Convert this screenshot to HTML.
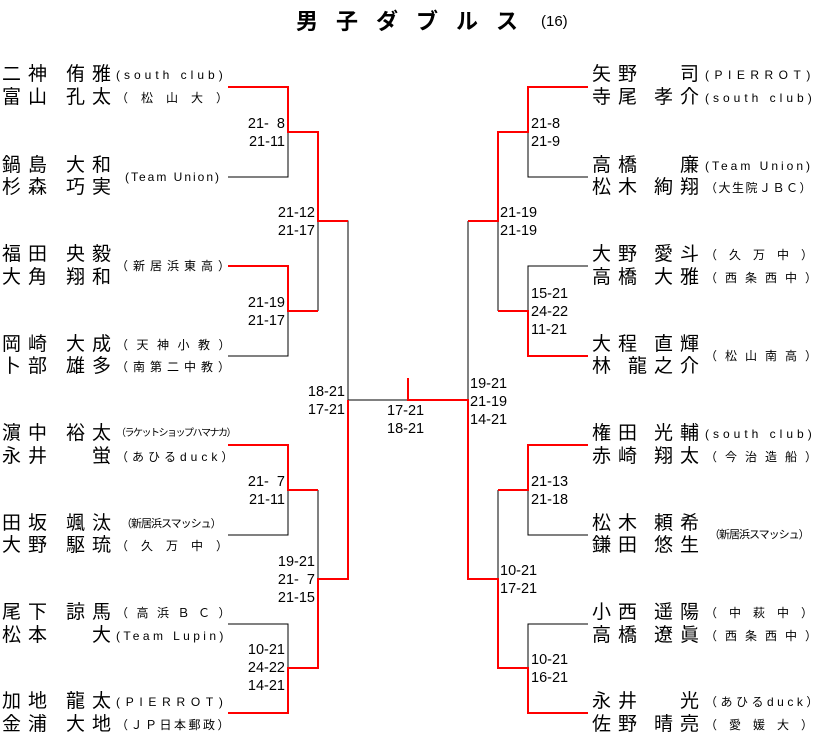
<!DOCTYPE html>
<html><head><meta charset="utf-8"><style>
body{margin:0;background:#fff;}
#w{position:relative;width:817px;height:736px;overflow:hidden;font-family:"Liberation Sans","Noto Sans CJK JP",sans-serif;color:#000;}
.a{position:absolute;white-space:nowrap;}
.s{font-size:19px;line-height:22px;letter-spacing:7px;}
.c{font-size:12px;line-height:22px;}
.sc{font-size:14.5px;line-height:18px;}
.r{text-align:right;}
svg{position:absolute;left:0;top:0;}
</style></head><body><div id="w">
<svg width="817" height="736">
<g fill="none" stroke="#000" stroke-width="1">
<path d="M228 177H288V132"/><path d="M228 356H288V311"/><path d="M318 221V311"/>
<path d="M228 535H288V490"/><path d="M228 624H288V668"/><path d="M318 490V579"/>
<path d="M348 400V221H318"/><path d="M348 400H408"/>
<path d="M588 177H528V132"/><path d="M588 266H528V311"/><path d="M498 221V311"/>
<path d="M588 535H528V490"/><path d="M588 624H528V668"/><path d="M498 490V579"/>
<path d="M468 400V221"/>
</g>
<g fill="none" stroke="#f00" stroke-width="2">
<path d="M228 87H288V132H318V221H348"/><path d="M228 266H288V311H318"/>
<path d="M228 445H288V490H318"/><path d="M228 713H288V668H318V579H348V400"/>
<path d="M408 378V400H468V579H498V668H528V713H588"/>
<path d="M588 87H528V132H498V221H468"/><path d="M588 356H528V311H498"/>
<path d="M588 445H528V490H498"/>
</g>
</svg>
<div class="a" style="left:296px;top:8px;font-size:22px;font-weight:bold;letter-spacing:18px;line-height:28px;">男子ダブルス</div>
<div class="a" style="left:541px;top:11px;font-size:15px;line-height:22px;">(16)</div>

<!-- left names -->
<div class="a s" style="left:2px;top:64px">二神</div><div class="a s r" style="right:699px;top:64px">侑雅</div>
<div class="a s" style="left:2px;top:87px">富山</div><div class="a s r" style="right:699px;top:87px">孔太</div>
<div class="a s" style="left:2px;top:155px">鍋島</div><div class="a s r" style="right:699px;top:155px">大和</div>
<div class="a s" style="left:2px;top:177px">杉森</div><div class="a s r" style="right:699px;top:177px">巧実</div>
<div class="a s" style="left:2px;top:244px">福田</div><div class="a s r" style="right:699px;top:244px">央毅</div>
<div class="a s" style="left:2px;top:267px">大角</div><div class="a s r" style="right:699px;top:267px">翔和</div>
<div class="a s" style="left:2px;top:334px">岡崎</div><div class="a s r" style="right:699px;top:334px">大成</div>
<div class="a s" style="left:2px;top:356px">卜部</div><div class="a s r" style="right:699px;top:356px">雄多</div>
<div class="a s" style="left:2px;top:423px">濵中</div><div class="a s r" style="right:699px;top:423px">裕太</div>
<div class="a s" style="left:2px;top:446px">永井</div><div class="a s r" style="right:699px;top:446px">蛍</div>
<div class="a s" style="left:2px;top:513px">田坂</div><div class="a s r" style="right:699px;top:513px">颯汰</div>
<div class="a s" style="left:2px;top:535px">大野</div><div class="a s r" style="right:699px;top:535px">駆琉</div>
<div class="a s" style="left:2px;top:602px">尾下</div><div class="a s r" style="right:699px;top:602px">諒馬</div>
<div class="a s" style="left:2px;top:625px">松本</div><div class="a s r" style="right:699px;top:625px">大</div>
<div class="a s" style="left:2px;top:691px">加地</div><div class="a s r" style="right:699px;top:691px">龍太</div>
<div class="a s" style="left:2px;top:714px">金浦</div><div class="a s r" style="right:699px;top:714px">大地</div>
<!-- left clubs -->
<div class="a c" style="left:116px;top:64px;letter-spacing:4px">(south club)</div>
<div class="a c" style="left:116px;top:87px;letter-spacing:13px">（松山大）</div>
<div class="a c" style="left:125px;top:166px;letter-spacing:2px">(Team Union)</div>
<div class="a c" style="left:116px;top:255px;letter-spacing:5px">（新居浜東高）</div>
<div class="a c" style="left:116px;top:334px;letter-spacing:8.5px">（天神小教）</div>
<div class="a c" style="left:116px;top:356px;letter-spacing:5px">（南第二中教）</div>
<div class="a c" style="left:116px;top:423px;font-size:10px;letter-spacing:-1.5px">（ラケットショップハマナカ）</div>
<div class="a c" style="left:116px;top:446px;letter-spacing:4px">（あひるduck）</div>
<div class="a c" style="left:121px;top:513px;font-size:11px;letter-spacing:-1px">（新居浜スマッシュ）</div>
<div class="a c" style="left:116px;top:535px;letter-spacing:13px">（久万中）</div>
<div class="a c" style="left:116px;top:602px;letter-spacing:8.5px">（高浜ＢＣ）</div>
<div class="a c" style="left:116px;top:625px;letter-spacing:3.4px">(Team Lupin)</div>
<div class="a c" style="left:116px;top:691px;letter-spacing:5.7px">(PIERROT)</div>
<div class="a c" style="left:116px;top:714px;letter-spacing:2.5px">（ＪＰ日本郵政）</div>

<!-- right names -->
<div class="a s" style="left:592px;top:64px">矢野</div><div class="a s r" style="right:111px;top:64px">司</div>
<div class="a s" style="left:592px;top:87px">寺尾</div><div class="a s r" style="right:111px;top:87px">孝介</div>
<div class="a s" style="left:592px;top:155px">高橋</div><div class="a s r" style="right:111px;top:155px">廉</div>
<div class="a s" style="left:592px;top:177px">松木</div><div class="a s r" style="right:111px;top:177px">絢翔</div>
<div class="a s" style="left:592px;top:244px">大野</div><div class="a s r" style="right:111px;top:244px">愛斗</div>
<div class="a s" style="left:592px;top:267px">高橋</div><div class="a s r" style="right:111px;top:267px">大雅</div>
<div class="a s" style="left:592px;top:334px">大程</div><div class="a s r" style="right:111px;top:334px">直輝</div>
<div class="a s" style="left:592px;top:356px">林</div><div class="a s r" style="right:111px;top:356px">龍之介</div>
<div class="a s" style="left:592px;top:423px">権田</div><div class="a s r" style="right:111px;top:423px">光輔</div>
<div class="a s" style="left:592px;top:446px">赤崎</div><div class="a s r" style="right:111px;top:446px">翔太</div>
<div class="a s" style="left:592px;top:513px">松木</div><div class="a s r" style="right:111px;top:513px">頼希</div>
<div class="a s" style="left:592px;top:535px">鎌田</div><div class="a s r" style="right:111px;top:535px">悠生</div>
<div class="a s" style="left:592px;top:602px">小西</div><div class="a s r" style="right:111px;top:602px">遥陽</div>
<div class="a s" style="left:592px;top:625px">高橋</div><div class="a s r" style="right:111px;top:625px">遼眞</div>
<div class="a s" style="left:592px;top:691px">永井</div><div class="a s r" style="right:111px;top:691px">光</div>
<div class="a s" style="left:592px;top:714px">佐野</div><div class="a s r" style="right:111px;top:714px">晴亮</div>
<!-- right clubs -->
<div class="a c" style="left:705px;top:64px;letter-spacing:5.5px">(PIERROT)</div>
<div class="a c" style="left:705px;top:87px;letter-spacing:4px">(south club)</div>
<div class="a c" style="left:705px;top:155px;letter-spacing:3px">(Team Union)</div>
<div class="a c" style="left:705px;top:177px;letter-spacing:1.5px">（大生院ＪＢＣ）</div>
<div class="a c" style="left:705px;top:244px;letter-spacing:12px">（久万中）</div>
<div class="a c" style="left:705px;top:267px;letter-spacing:8px">（西条西中）</div>
<div class="a c" style="left:705px;top:345px;letter-spacing:8px">（松山南高）</div>
<div class="a c" style="left:705px;top:423px;letter-spacing:4px">(south club)</div>
<div class="a c" style="left:705px;top:446px;letter-spacing:8px">（今治造船）</div>
<div class="a c" style="left:709px;top:524px;font-size:11px;letter-spacing:-1px">（新居浜スマッシュ）</div>
<div class="a c" style="left:705px;top:602px;letter-spacing:12px">（中萩中）</div>
<div class="a c" style="left:705px;top:625px;letter-spacing:8px">（西条西中）</div>
<div class="a c" style="left:705px;top:691px;letter-spacing:3.5px">（あひるduck）</div>
<div class="a c" style="left:705px;top:714px;letter-spacing:12px">（愛媛大）</div>

<!-- scores left -->
<div class="a sc r" style="right:532px;top:115px">21-&nbsp;&nbsp;8<br>21-11</div>
<div class="a sc r" style="right:532px;top:294px">21-19<br>21-17</div>
<div class="a sc r" style="right:502px;top:204px">21-12<br>21-17</div>
<div class="a sc r" style="right:532px;top:473px">21-&nbsp;&nbsp;7<br>21-11</div>
<div class="a sc r" style="right:532px;top:641px">10-21<br>24-22<br>14-21</div>
<div class="a sc r" style="right:502px;top:553px">19-21<br>21-&nbsp;&nbsp;7<br>21-15</div>
<div class="a sc r" style="right:472px;top:383px">18-21<br>17-21</div>
<div class="a sc" style="left:387px;top:402px">17-21<br>18-21</div>
<!-- scores right -->
<div class="a sc" style="left:531px;top:115px">21-8<br>21-9</div>
<div class="a sc" style="left:531px;top:285px">15-21<br>24-22<br>11-21</div>
<div class="a sc" style="left:500px;top:204px">21-19<br>21-19</div>
<div class="a sc" style="left:470px;top:375px">19-21<br>21-19<br>14-21</div>
<div class="a sc" style="left:531px;top:473px">21-13<br>21-18</div>
<div class="a sc" style="left:500px;top:562px">10-21<br>17-21</div>
<div class="a sc" style="left:531px;top:651px">10-21<br>16-21</div>
</div></body></html>
